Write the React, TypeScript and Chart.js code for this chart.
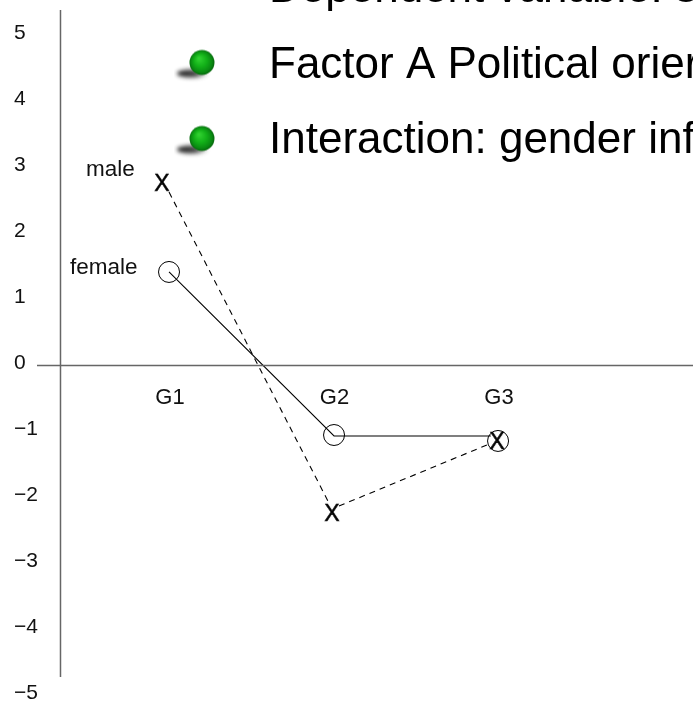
import React, { useEffect, useRef } from "react";
import { Chart, registerables } from "chart.js";

Chart.register(...registerables);

const FONT = '"Liberation Sans", Arial, sans-serif';

const groups = ["G1", "G2", "G3"];
const groupTicks = [1, 2, 3];
const yTicks = [5, 4, 3, 2, 1, 0, -1, -2, -3, -4, -5];

const femaleX = [0.994, 1.997, 2.994];
const femaleY = [1.417, -1.053, -1.143];
const maleX = [0.951, 1.985, 2.988];
const maleY = [2.767, -2.233, -1.143];

const femaleLineX = [0.994, 1.997, 2.95];
const femaleLineY = [1.417, -1.068, -1.068];
const maleLineX = [0.994, 1.96];
const maleLineY = [2.627, -2.053];
const maleLine2X = [2.027, 2.927];
const maleLine2Y = [-2.129, -1.203];

const seriesLabels = ["female", "male"];
const seriesLabelX = [0.392, 0.489];
const seriesLabelY = [1.477, 2.962];

const slideLines = ["Dependent variable: s", "Factor A Political orier", "Interaction: gender inf"];
const slideLineX = 1.6018;
const slideBaselines = [5.507, 4.356, 3.212];
const bulletX = [1.176];
const bulletY = [5.697, 4.545, 3.394];

const axisX = 0.3343;
const axisTop = 5.386;
const axisBottom = -4.72;
const zeroLineX = [0.1915, 4.179];
const zeroLineY = [0, 0];

const X_MIN = 0.2158;
const X_MAX = 4.179;
const Y_MIN = -5.143;
const Y_MAX = 5.537;

function makeBullet(): HTMLCanvasElement {
  const c = document.createElement("canvas");
  c.width = 50;
  c.height = 36;
  const g = c.getContext("2d")!;
  g.save();
  g.filter = "blur(2px)";
  const sh = g.createLinearGradient(4, 0, 34, 0);
  sh.addColorStop(0, "rgba(10,10,10,0.95)");
  sh.addColorStop(0.6, "rgba(30,30,30,0.8)");
  sh.addColorStop(1, "rgba(60,60,60,0.2)");
  g.fillStyle = sh;
  g.beginPath();
  g.ellipse(18, 26, 15, 4, 0, 0, Math.PI * 2);
  g.fill();
  g.restore();
  const grad = g.createRadialGradient(25, 11, 1, 28, 15, 13);
  grad.addColorStop(0, "#2fd02f");
  grad.addColorStop(0.45, "#12b018");
  grad.addColorStop(0.8, "#0a8a12");
  grad.addColorStop(1, "#05600a");
  g.fillStyle = grad;
  g.beginPath();
  g.arc(28, 15, 12.5, 0, Math.PI * 2);
  g.fill();
  return c;
}

function makeCross(): HTMLCanvasElement {
  const c = document.createElement("canvas");
  c.width = 24;
  c.height = 24;
  const g = c.getContext("2d")!;
  g.fillStyle = "#000";
  g.strokeStyle = "#000";
  g.lineWidth = 0.5;
  g.font = `23px ${FONT}`;
  g.textAlign = "center";
  g.textBaseline = "alphabetic";
  g.fillText("X", 12, 20);
  g.strokeText("X", 12, 20);
  return c;
}

const textPlugin = {
  id: "slideText",
  afterDatasetsDraw(chart: any) {
    const { ctx, scales } = chart;
    ctx.save();
    ctx.fillStyle = "#000";
    ctx.textAlign = "left";
    ctx.textBaseline = "alphabetic";
    ctx.font = `44px ${FONT}`;
    slideLines.forEach((t, i) => {
      ctx.fillText(t, scales.x.getPixelForValue(slideLineX), scales.y.getPixelForValue(slideBaselines[i]));
    });
    ctx.font = `22.5px ${FONT}`;
    ctx.fillStyle = "#111";
    ctx.textBaseline = "middle";
    seriesLabels.forEach((t, i) => {
      ctx.fillText(t, scales.x.getPixelForValue(seriesLabelX[i]), scales.y.getPixelForValue(seriesLabelY[i]));
    });
    ctx.restore();
  },
};

export default function App() {
  const ref = useRef<HTMLCanvasElement>(null);
  useEffect(() => {
    document.body.style.margin = "0";
    document.body.style.overflow = "hidden";
    const bullet = makeBullet();
    const cross = makeCross();
    const toPts = (xs: number[], ys: number[]) => ys.map((y, i) => ({ x: xs[i] ?? xs[0], y }));
    const line = (data: any[], dash: number[], color = "#000", width = 1.1) => ({
      type: "line" as const,
      data,
      borderColor: color,
      borderWidth: width,
      borderDash: dash,
      pointRadius: 0,
      fill: false,
      tension: 0,
      clip: false as any,
    });
    const chart = new Chart(ref.current!, {
      type: "scatter",
      data: {
        datasets: [
          line(toPts([axisX, axisX], [axisTop, axisBottom]), [], "#666", 1.5),
          line(toPts(zeroLineX, zeroLineY), [], "#666", 1.5),
          line(toPts(femaleLineX, femaleLineY), []),
          line(toPts(maleLineX, maleLineY), [6, 5]),
          line(toPts(maleLine2X, maleLine2Y), [6, 5]),
          {
            data: toPts(femaleX, femaleY),
            pointStyle: "circle",
            pointRadius: 10.5,
            pointBorderWidth: 1,
            pointBorderColor: "#000",
            pointBackgroundColor: "transparent",
          },
          {
            data: toPts(maleX, maleY),
            pointStyle: cross as any,
            clip: false as any,
          },
          {
            data: toPts(bulletX, bulletY),
            pointStyle: bullet as any,
            clip: false as any,
          },
        ],
      } as any,
      options: {
        responsive: false,
        animation: false,
        layout: { padding: { left: 14, right: 0, top: 0, bottom: 0 }, autoPadding: false },
        plugins: { legend: { display: false }, tooltip: { enabled: false }, title: { display: false } },
        scales: {
          x: {
            type: "linear",
            min: X_MIN,
            max: X_MAX,
            position: { y: 0 } as any,
            afterBuildTicks: (s: any) => {
              s.ticks = groupTicks.map((value) => ({ value }));
            },
            grid: { display: false },
            border: { display: false },
            ticks: {
              autoSkip: false,
              maxRotation: 0,
              padding: 11,
              color: "#111",
              font: { family: FONT, size: 22 },
              callback: (v: any) => groups[groupTicks.indexOf(Number(v))] ?? "",
            },
          },
          y: {
            type: "linear",
            min: Y_MIN,
            max: Y_MAX,
            afterFit: (s: any) => {
              s.width = 27;
              s.paddingTop = 0;
              s.paddingBottom = 0;
            },
            afterBuildTicks: (s: any) => {
              s.ticks = yTicks.map((value) => ({ value }));
            },
            grid: { display: false },
            border: { display: false },
            ticks: {
              autoSkip: false,
              crossAlign: "far",
              padding: 0,
              labelOffset: -2,
              color: "#111",
              font: { family: FONT, size: 21 },
              callback: (v: any) => (Number(v) < 0 ? "\u2212" + Math.abs(Number(v)) : String(v)),
            },
          },
        },
      } as any,
      plugins: [textPlugin],
    });
    return () => chart.destroy();
  }, []);
  return <canvas ref={ref} width={693} height={705} style={{ display: "block", width: 693, height: 705 }} />;
}
